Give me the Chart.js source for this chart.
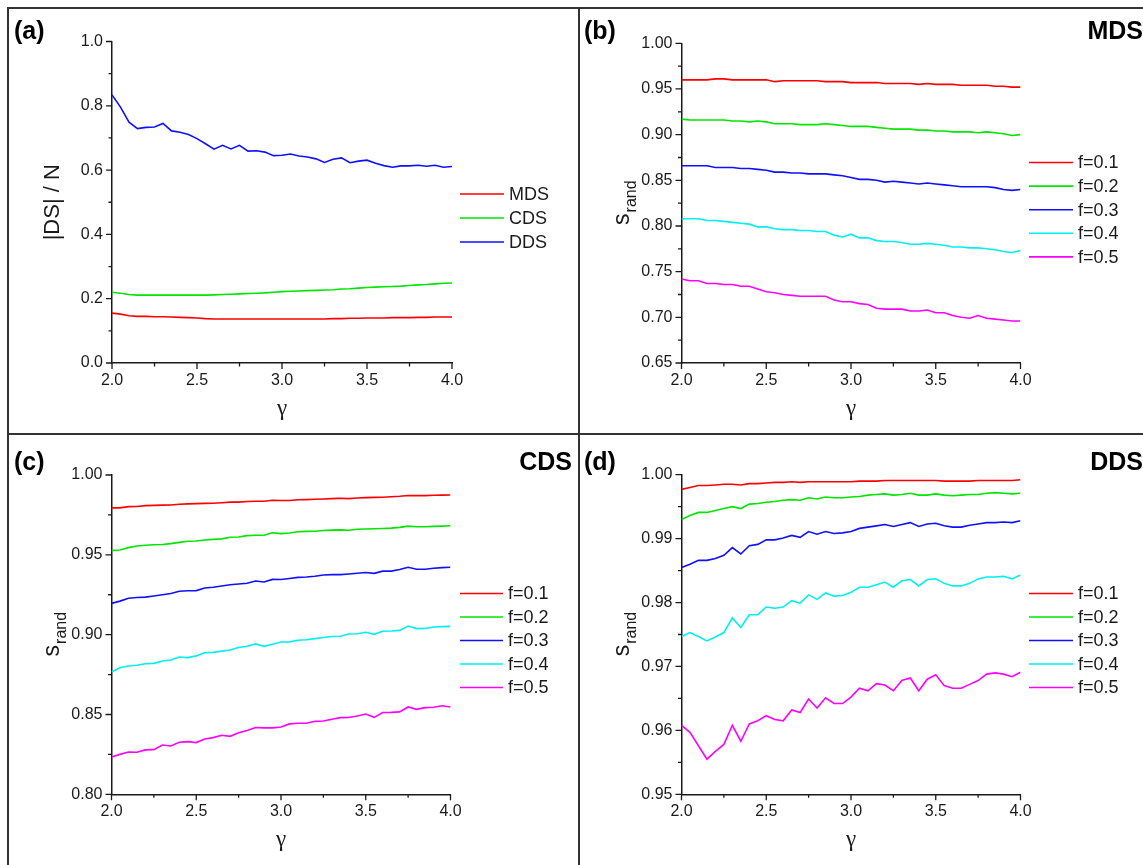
<!DOCTYPE html>
<html>
<head>
<meta charset="utf-8">
<script src="https://cdn.jsdelivr.net/npm/chart.js@4.4.1/dist/chart.umd.min.js"></script>
<style>
  body { margin: 0; background: #fff; }
  #fig { position: relative; width: 1143px; height: 865px; overflow: hidden; background: #fff; }
  #fig canvas { position: absolute; }
  .rule { position: absolute; background: #333; }
</style>
</head>
<body>
<div id="fig">
  <canvas id="pa"></canvas>
  <canvas id="pb"></canvas>
  <canvas id="pc"></canvas>
  <canvas id="pd"></canvas>
  <div class="rule" style="left:7px;top:7px;width:1136px;height:2px"></div>
  <div class="rule" style="left:7px;top:7px;width:2px;height:858px"></div>
  <div class="rule" style="left:578px;top:7px;width:2px;height:858px"></div>
  <div class="rule" style="left:7px;top:433px;width:1136px;height:2px"></div>
</div>
<script>
// gamma values (x axis)
const gammas = [2.0, 2.05, 2.1, 2.15, 2.2, 2.25, 2.3, 2.35, 2.4, 2.45, 2.5, 2.55, 2.6, 2.65, 2.7, 2.75, 2.8, 2.85, 2.9, 2.95,
  3.0, 3.05, 3.1, 3.15, 3.2, 3.25, 3.3, 3.35, 3.4, 3.45, 3.5, 3.55, 3.6, 3.65, 3.7, 3.75, 3.8, 3.85, 3.9, 3.95, 4.0];

// (a) |DS| / N
const sizeLabels = ["MDS", "CDS", "DDS"];
const sizeMDS = [0.155, 0.152, 0.147, 0.145, 0.145, 0.144, 0.144, 0.143, 0.142, 0.141, 0.140, 0.138, 0.137, 0.137, 0.137, 0.137, 0.137, 0.137, 0.137, 0.137,
  0.137, 0.137, 0.137, 0.137, 0.137, 0.137, 0.138, 0.138, 0.139, 0.139, 0.140, 0.140, 0.140, 0.141, 0.141, 0.141, 0.142, 0.142, 0.143, 0.143, 0.143];
const sizeCDS = [0.220, 0.217, 0.213, 0.211, 0.211, 0.211, 0.211, 0.211, 0.211, 0.211, 0.211, 0.211, 0.212, 0.213, 0.214, 0.215, 0.216, 0.217, 0.218, 0.220,
  0.222, 0.223, 0.224, 0.225, 0.226, 0.227, 0.228, 0.230, 0.231, 0.233, 0.235, 0.236, 0.237, 0.238, 0.239, 0.241, 0.243, 0.244, 0.246, 0.248, 0.249];
const sizeDDS = [0.834, 0.796, 0.749, 0.729, 0.733, 0.734, 0.745, 0.722, 0.718, 0.711, 0.698, 0.682, 0.665, 0.677, 0.666, 0.677, 0.659, 0.660, 0.656, 0.645,
  0.646, 0.650, 0.644, 0.641, 0.635, 0.624, 0.634, 0.638, 0.623, 0.628, 0.631, 0.621, 0.614, 0.609, 0.613, 0.613, 0.615, 0.612, 0.615, 0.609, 0.611];

// s_rand series labels
const fLabels = ["f=0.1", "f=0.2", "f=0.3", "f=0.4", "f=0.5"];

// (b) MDS
const mdsF1 = [0.960, 0.960, 0.960, 0.960, 0.961, 0.961, 0.960, 0.960, 0.960, 0.960, 0.960, 0.958, 0.959, 0.959, 0.959, 0.959, 0.959, 0.958, 0.958, 0.958,
  0.957, 0.957, 0.957, 0.957, 0.956, 0.956, 0.956, 0.956, 0.955, 0.956, 0.955, 0.955, 0.955, 0.954, 0.954, 0.954, 0.954, 0.953, 0.953, 0.952, 0.952];
const mdsF2 = [0.917, 0.916, 0.916, 0.916, 0.916, 0.916, 0.915, 0.915, 0.914, 0.915, 0.914, 0.912, 0.912, 0.912, 0.911, 0.911, 0.911, 0.912, 0.911, 0.910,
  0.909, 0.909, 0.909, 0.908, 0.907, 0.906, 0.906, 0.906, 0.905, 0.905, 0.904, 0.904, 0.903, 0.903, 0.903, 0.902, 0.903, 0.902, 0.901, 0.899, 0.900];
const mdsF3 = [0.866, 0.866, 0.866, 0.866, 0.864, 0.864, 0.864, 0.863, 0.863, 0.862, 0.861, 0.859, 0.859, 0.858, 0.858, 0.857, 0.857, 0.857, 0.856, 0.855,
  0.853, 0.851, 0.851, 0.850, 0.848, 0.849, 0.848, 0.847, 0.846, 0.847, 0.846, 0.845, 0.844, 0.843, 0.843, 0.843, 0.843, 0.842, 0.840, 0.839, 0.840];
const mdsF4 = [0.808, 0.808, 0.808, 0.806, 0.806, 0.805, 0.804, 0.803, 0.802, 0.799, 0.799, 0.797, 0.796, 0.796, 0.795, 0.795, 0.794, 0.794, 0.790, 0.788,
  0.791, 0.787, 0.787, 0.784, 0.783, 0.783, 0.782, 0.780, 0.780, 0.781, 0.780, 0.779, 0.777, 0.777, 0.776, 0.776, 0.775, 0.774, 0.772, 0.771, 0.773];
const mdsF5 = [0.742, 0.740, 0.740, 0.737, 0.737, 0.736, 0.736, 0.734, 0.734, 0.731, 0.728, 0.727, 0.725, 0.724, 0.723, 0.723, 0.723, 0.723, 0.719, 0.717,
  0.717, 0.715, 0.714, 0.710, 0.709, 0.709, 0.709, 0.707, 0.707, 0.708, 0.705, 0.705, 0.702, 0.700, 0.699, 0.702, 0.699, 0.698, 0.697, 0.696, 0.696];

// (c) CDS
const cdsF1 = [0.9794, 0.9794, 0.9802, 0.9803, 0.9808, 0.9810, 0.9811, 0.9812, 0.9817, 0.9819, 0.9821, 0.9822, 0.9823, 0.9826, 0.9830, 0.9830, 0.9834, 0.9836, 0.9836, 0.9842,
  0.9840, 0.9840, 0.9845, 0.9846, 0.9848, 0.9850, 0.9852, 0.9854, 0.9852, 0.9856, 0.9858, 0.9860, 0.9861, 0.9864, 0.9867, 0.9872, 0.9871, 0.9871, 0.9873, 0.9874, 0.9875];
const cdsF2 = [0.9528, 0.9530, 0.9545, 0.9555, 0.9560, 0.9563, 0.9565, 0.9570, 0.9578, 0.9585, 0.9587, 0.9593, 0.9597, 0.9600, 0.9610, 0.9612, 0.9620, 0.9623, 0.9623, 0.9638,
  0.9633, 0.9637, 0.9645, 0.9647, 0.9648, 0.9652, 0.9655, 0.9656, 0.9654, 0.9660, 0.9662, 0.9663, 0.9665, 0.9667, 0.9672, 0.9680, 0.9676, 0.9676, 0.9678, 0.9680, 0.9682];
const cdsF3 = [0.9196, 0.9210, 0.9228, 0.9233, 0.9235, 0.9242, 0.9250, 0.9258, 0.9272, 0.9275, 0.9276, 0.9292, 0.9297, 0.9305, 0.9313, 0.9317, 0.9322, 0.9336, 0.9330, 0.9346,
  0.9345, 0.9352, 0.9359, 0.9361, 0.9366, 0.9374, 0.9376, 0.9376, 0.9380, 0.9385, 0.9389, 0.9384, 0.9398, 0.9398, 0.9408, 0.9422, 0.9410, 0.9410, 0.9416, 0.9420, 0.9422];
const cdsF4 = [0.8766, 0.8793, 0.8804, 0.8808, 0.8818, 0.8820, 0.8835, 0.8841, 0.8860, 0.8856, 0.8867, 0.8887, 0.8889, 0.8897, 0.8904, 0.8920, 0.8927, 0.8942, 0.8927, 0.8940,
  0.8954, 0.8955, 0.8965, 0.8968, 0.8975, 0.8982, 0.8988, 0.8990, 0.9004, 0.9006, 0.9015, 0.9002, 0.9021, 0.9023, 0.9027, 0.9054, 0.9038, 0.9039, 0.9048, 0.9050, 0.9052];
const cdsF5 = [0.8234, 0.8250, 0.8265, 0.8263, 0.8278, 0.8280, 0.8309, 0.8303, 0.8326, 0.8330, 0.8324, 0.8347, 0.8355, 0.8370, 0.8363, 0.8386, 0.8400, 0.8418, 0.8416, 0.8416,
  0.8422, 0.8441, 0.8445, 0.8445, 0.8457, 0.8459, 0.8470, 0.8480, 0.8481, 0.8490, 0.8503, 0.8482, 0.8512, 0.8513, 0.8516, 0.8547, 0.8532, 0.8543, 0.8545, 0.8555, 0.8547];

// (d) DDS
const ddsF1 = [0.9977, 0.9980, 0.9983, 0.9983, 0.9984, 0.9985, 0.9985, 0.9984, 0.9986, 0.9986, 0.9987, 0.9988, 0.9988, 0.9989, 0.9988, 0.9989, 0.9989, 0.9989, 0.9989, 0.9989,
  0.9989, 0.9990, 0.9990, 0.9990, 0.9991, 0.9991, 0.9991, 0.9991, 0.9991, 0.9991, 0.9991, 0.9990, 0.9990, 0.9990, 0.9990, 0.9991, 0.9991, 0.9991, 0.9991, 0.9991, 0.9992];
const ddsF2 = [0.9930, 0.9936, 0.9941, 0.9941, 0.9944, 0.9947, 0.9950, 0.9947, 0.9954, 0.9955, 0.9957, 0.9958, 0.9960, 0.9961, 0.9960, 0.9964, 0.9962, 0.9965, 0.9964, 0.9964,
  0.9965, 0.9966, 0.9968, 0.9969, 0.9970, 0.9968, 0.9969, 0.9971, 0.9968, 0.9968, 0.9970, 0.9968, 0.9967, 0.9968, 0.9969, 0.9969, 0.9971, 0.9972, 0.9971, 0.9970, 0.9971];
const ddsF3 = [0.9855, 0.9860, 0.9866, 0.9866, 0.9869, 0.9874, 0.9886, 0.9876, 0.9889, 0.9891, 0.9898, 0.9898, 0.9901, 0.9905, 0.9902, 0.9911, 0.9907, 0.9911, 0.9908, 0.9909,
  0.9911, 0.9916, 0.9918, 0.9920, 0.9922, 0.9919, 0.9922, 0.9925, 0.9919, 0.9923, 0.9924, 0.9920, 0.9918, 0.9918, 0.9921, 0.9923, 0.9925, 0.9925, 0.9926, 0.9925, 0.9928];
const ddsF4 = [0.9747, 0.9753, 0.9747, 0.9740, 0.9746, 0.9753, 0.9776, 0.9761, 0.9781, 0.9781, 0.9793, 0.9791, 0.9793, 0.9803, 0.9799, 0.9812, 0.9805, 0.9815, 0.9810, 0.9811,
  0.9816, 0.9824, 0.9824, 0.9828, 0.9832, 0.9824, 0.9834, 0.9836, 0.9826, 0.9836, 0.9837, 0.9830, 0.9826, 0.9826, 0.9830, 0.9837, 0.9840, 0.9840, 0.9841, 0.9837, 0.9843];
const ddsF5 = [0.9608, 0.9597, 0.9576, 0.9555, 0.9567, 0.9578, 0.9608, 0.9583, 0.9610, 0.9615, 0.9623, 0.9617, 0.9615, 0.9632, 0.9628, 0.9649, 0.9635, 0.9651, 0.9642, 0.9642,
  0.9652, 0.9666, 0.9662, 0.9673, 0.9671, 0.9662, 0.9678, 0.9682, 0.9662, 0.9680, 0.9687, 0.9670, 0.9666, 0.9666, 0.9672, 0.9678, 0.9688, 0.9690, 0.9688, 0.9684, 0.9691];

const COLORS = ["#ff0000", "#00e600", "#1010ff", "#00f0f0", "#ff00ff"];
const INK = "#1a1a1a";
const SANS = '"Liberation Sans", Arial, sans-serif';
const SERIF = '"Liberation Serif", "DejaVu Serif", serif';

const isMajor = (v, step) => Math.abs(v / step - Math.round(v / step)) < 1e-6;

// draws tick marks (major + minor), legend, axis titles and panel labels
function decor(p) {
  return {
    id: "decor",
    afterDraw(chart) {
      const ctx = chart.ctx;
      const xs = chart.scales.x, ys = chart.scales.y;
      ctx.save();
      ctx.strokeStyle = INK;
      ctx.lineWidth = 1.3;
      ctx.beginPath();
      xs.ticks.forEach((t) => {
        const px = xs.getPixelForValue(t.value);
        const len = t.label ? 6 : 3.5;
        ctx.moveTo(px, xs.top);
        ctx.lineTo(px, xs.top + len);
      });
      ys.ticks.forEach((t) => {
        const py = ys.getPixelForValue(t.value);
        const len = t.label ? 6 : 3.5;
        ctx.moveTo(ys.right, py);
        ctx.lineTo(ys.right - len, py);
      });
      ctx.stroke();

      // legend
      ctx.font = "18px " + SANS;
      ctx.textBaseline = "middle";
      ctx.textAlign = "left";
      chart.data.datasets.forEach((ds, i) => {
        const ly = p.legY - p.top + i * p.legDy;
        ctx.strokeStyle = ds.borderColor;
        ctx.lineWidth = 1.6;
        ctx.beginPath();
        ctx.moveTo(p.legX0 - p.left, ly);
        ctx.lineTo(p.legX1 - p.left, ly);
        ctx.stroke();
        ctx.fillStyle = INK;
        ctx.fillText(ds.label, p.legText - p.left, ly + 1);
      });

      // panel letter and corner title
      ctx.fillStyle = "#000";
      ctx.font = "bold 25px " + SANS;
      ctx.textBaseline = "alphabetic";
      ctx.fillText(p.letter, p.letterX - p.left, p.letterY - p.top);
      if (p.corner) {
        ctx.textAlign = "right";
        ctx.fillText(p.corner, p.cornerX - p.left, p.letterY - p.top);
      }

      // x title
      ctx.textAlign = "center";
      ctx.font = "23px " + SERIF;
      ctx.fillStyle = INK;
      ctx.fillText("\u03b3", (chart.chartArea.left + chart.chartArea.right) / 2, chart.chartArea.bottom + 52);

      // y title (rotated)
      const cy = (chart.chartArea.top + chart.chartArea.bottom) / 2;
      const bx = chart.chartArea.left - 53;
      ctx.translate(bx, cy);
      ctx.rotate(-Math.PI / 2);
      if (p.yTitle) {
        ctx.font = "22px " + SANS;
        ctx.textAlign = "center";
        ctx.fillText(p.yTitle, 0, 0);
      } else {
        ctx.textAlign = "left";
        ctx.font = "23px " + SANS;
        const w1 = ctx.measureText("s").width;
        ctx.font = "16px " + SANS;
        const w2 = ctx.measureText("rand").width;
        const x0 = -(w1 + w2) / 2;
        ctx.font = "23px " + SANS;
        ctx.fillText("s", x0, 0);
        ctx.font = "16px " + SANS;
        ctx.fillText("rand", x0 + w1 + 1, 7);
      }
      ctx.restore();
    },
  };
}

function makePanel(id, p, yMin, yMax, yMajor, yMinor, dec, series, labels) {
  const cv = document.getElementById(id);
  cv.width = p.w;
  cv.height = p.h;
  cv.style.left = p.left + "px";
  cv.style.top = p.top + "px";
  const aL = p.areaL - p.left, aR = p.areaR - p.left;
  const aT = p.areaT - p.top, aB = p.areaB - p.top;
  const tickFont = { family: SANS, size: 16 };
  new Chart(cv, {
    type: "line",
    data: {
      datasets: series.map((arr, i) => ({
        label: labels[i],
        data: gammas.map((g, j) => ({ x: g, y: arr[j] })),
        borderColor: COLORS[i],
        backgroundColor: COLORS[i],
        borderWidth: 1.6,
        pointRadius: 0,
        tension: 0,
        fill: false,
      })),
    },
    options: {
      responsive: false,
      animation: false,
      devicePixelRatio: 1,
      layout: { padding: { left: 0, top: aT, right: p.w - aR, bottom: 0 } },
      plugins: { legend: { display: false }, tooltip: { enabled: false } },
      scales: {
        x: {
          type: "linear",
          min: 2,
          max: 4,
          grid: { display: false, drawTicks: false },
          border: { display: true, color: INK, width: 1.5 },
          ticks: {
            stepSize: 0.25,
            autoSkip: false,
            maxRotation: 0,
            padding: 8,
            color: INK,
            font: tickFont,
            callback: (v) => (isMajor(v, 0.5) ? v.toFixed(1) : ""),
          },
          afterFit: (s) => { s.height = p.h - aB; },
        },
        y: {
          type: "linear",
          min: yMin,
          max: yMax,
          grid: { display: false, drawTicks: false },
          border: { display: true, color: INK, width: 1.5 },
          ticks: {
            stepSize: yMinor,
            autoSkip: false,
            padding: 9,
            color: INK,
            font: tickFont,
            callback: (v) => (isMajor(v, yMajor) ? v.toFixed(dec) : ""),
          },
          afterFit: (s) => { s.width = aL; },
        },
      },
    },
    plugins: [decor(p)],
  });
}

makePanel("pa", {
  left: 9, top: 9, w: 569, h: 424,
  areaL: 112, areaR: 452, areaT: 41.5, areaB: 363,
  legX0: 460, legX1: 504, legText: 509, legY: 194, legDy: 24,
  letter: "(a)", letterX: 14, letterY: 39, yTitle: "|DS| / N",
}, 0, 1.0, 0.2, 0.1, 1, [sizeMDS, sizeCDS, sizeDDS], sizeLabels);

makePanel("pb", {
  left: 580, top: 9, w: 563, h: 424,
  areaL: 681.5, areaR: 1020.5, areaT: 43.3, areaB: 363,
  legX0: 1029, legX1: 1073, legText: 1078, legY: 162.5, legDy: 23.6,
  letter: "(b)", letterX: 584, letterY: 39, corner: "MDS", cornerX: 1143,
}, 0.65, 1.0, 0.05, 0.025, 2, [mdsF1, mdsF2, mdsF3, mdsF4, mdsF5], fLabels);

makePanel("pc", {
  left: 9, top: 435, w: 569, h: 430,
  areaL: 111.5, areaR: 450.5, areaT: 475, areaB: 794.3,
  legX0: 460, legX1: 503, legText: 508, legY: 593.5, legDy: 23.5,
  letter: "(c)", letterX: 14, letterY: 470, corner: "CDS", cornerX: 572,
}, 0.80, 1.0, 0.05, 0.025, 2, [cdsF1, cdsF2, cdsF3, cdsF4, cdsF5], fLabels);

makePanel("pd", {
  left: 580, top: 435, w: 563, h: 430,
  areaL: 681.5, areaR: 1020.5, areaT: 474.7, areaB: 794.3,
  legX0: 1029, legX1: 1073, legText: 1078, legY: 593.5, legDy: 23.5,
  letter: "(d)", letterX: 584, letterY: 470, corner: "DDS", cornerX: 1143,
}, 0.95, 1.0, 0.01, 0.005, 2, [ddsF1, ddsF2, ddsF3, ddsF4, ddsF5], fLabels);
</script>
</body>
</html>
